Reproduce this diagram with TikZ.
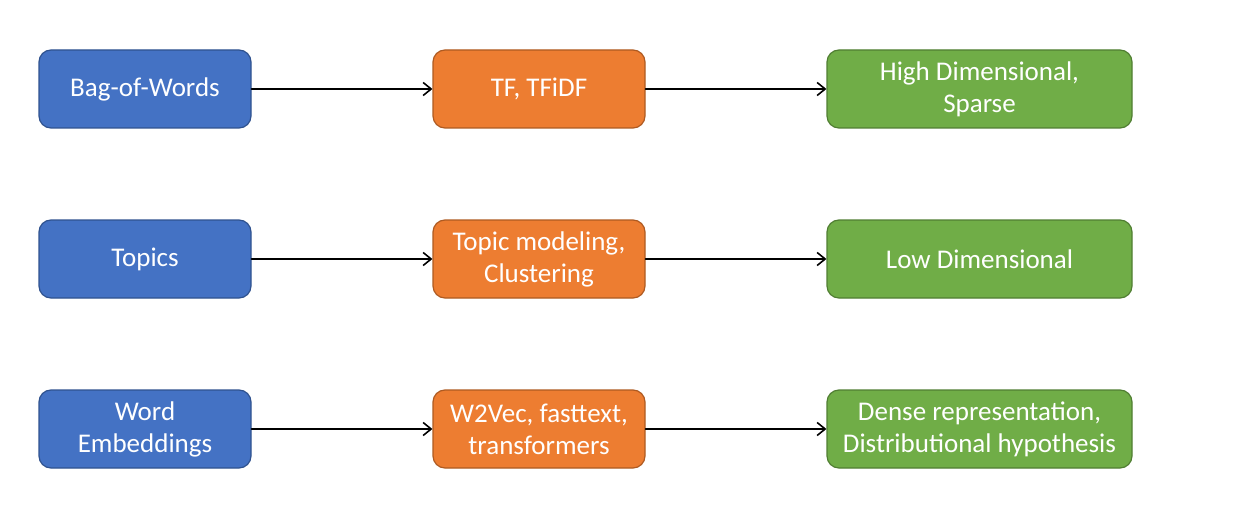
\documentclass[tikz,border=0pt]{standalone}
\usepackage{fontspec}
\setmainfont{Carlito}
\usetikzlibrary{arrows.meta}
\definecolor{bluefill}{HTML}{4472C4}
\definecolor{blueline}{HTML}{2F528F}
\definecolor{orangefill}{HTML}{ED7D31}
\definecolor{orangeline}{HTML}{AE5A21}
\definecolor{greenfill}{HTML}{70AD47}
\definecolor{greenline}{HTML}{507E32}
\tikzset{
	box/.style={rounded corners=12pt,line width=1.2pt,text=white,align=center,minimum height=78pt,inner sep=0pt},
	src/.style={box,fill=bluefill,draw=blueline,minimum width=212pt},
	mth/.style={box,fill=orangefill,draw=orangeline,minimum width=212pt},
	res/.style={box,fill=greenfill,draw=greenline,minimum width=305pt},
	flow/.style={line width=1.6pt,-{Straight Barb[length=8pt,width=13pt,line width=1.6pt]}}
}
\begin{document}
\begin{tikzpicture}[x=1pt,y=-1pt,font=\fontsize{27}{32}\selectfont,line join = round, line cap = round]
			\useasboundingbox (0,0) rectangle (1237,516);
			% row 1
			\node[src] (bow) at (145,89) {Bag-of-Words};
			\node[mth] (tfidf) at (539,89) {TF, TFiDF};
			\node[res] (sparse) at (979.5,89) {High Dimensional,\\Sparse};
			% row 2
			\node[src] (topics) at (145,259) {Topics};
			\node[mth] (topicmod) at (539,259) {Topic modeling,\\Clustering};
			\node[res] (lowdim) at (979.5,259) {Low Dimensional};
			% row 3
			\node[src] (embed) at (145,429) {Word\\Embeddings};
			\node[mth] (w2v) at (539,429) {W2Vec, fasttext,\\transformers};
			\node[res] (dense) at (979.5,429) {Dense representation,\\Distributional hypothesis};
			\draw[flow] (bow)--(tfidf);
			\draw[flow] (tfidf)--(sparse);
			\draw[flow] (topics)--(topicmod);
			\draw[flow] (topicmod)--(lowdim);
			\draw[flow] (embed)--(w2v);
			\draw[flow] (w2v)--(dense);
	\end{tikzpicture}
\end{document}
